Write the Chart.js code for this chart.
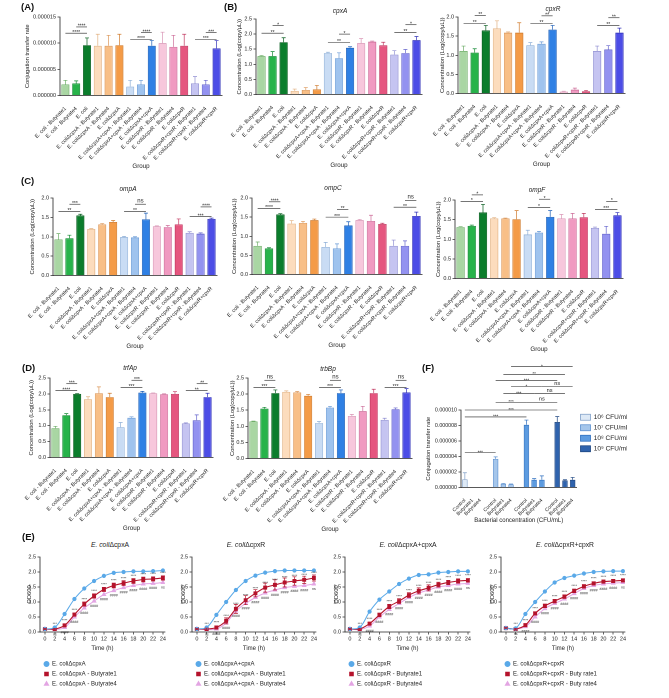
<!DOCTYPE html>
<html>
<head>
<meta charset="utf-8">
<script src="https://cdn.jsdelivr.net/npm/chart.js@4.4.1/dist/chart.umd.min.js"></script>
<style>
  html, body { margin: 0; padding: 0; background: #fff; }
  body { position: relative; width: 669px; height: 698px; overflow: hidden; font-family: "Liberation Sans", Arial, sans-serif; color: #222; }
  canvas { position: absolute; z-index: 1; }
  .tag { position: absolute; z-index: 2; font-weight: bold; font-size: 9.5px; color: #111; }
  .ttl { position: absolute; z-index: 2; font-size: 6.5px; font-style: italic; color: #222; transform: translate(-50%, -50%); white-space: nowrap; }
  .ettl { position: absolute; z-index: 2; font-size: 6.8px; color: #222; transform: translate(-50%, -50%); white-space: nowrap; }
</style>
</head>
<body>
<div class="tag" style="left:21px;top:1px">(A)</div>
<div class="tag" style="left:224px;top:1px">(B)</div>
<div class="tag" style="left:21px;top:175px">(C)</div>
<div class="tag" style="left:22px;top:362px">(D)</div>
<div class="tag" style="left:422px;top:362px">(F)</div>
<div class="tag" style="left:22px;top:531px">(E)</div>

<div class="ttl" style="left:340px;top:10px">cpxA</div>
<div class="ttl" style="left:553px;top:8px">cpxR</div>
<div class="ttl" style="left:128px;top:188px">ompA</div>
<div class="ttl" style="left:333px;top:187px">ompC</div>
<div class="ttl" style="left:537px;top:189px">ompF</div>
<div class="ttl" style="left:130px;top:367px">trfAp</div>
<div class="ttl" style="left:328px;top:368px">trbBp</div>

<div class="ettl" style="left:110px;top:544px"><i>E. coli</i>ΔcpxA</div>
<div class="ettl" style="left:246px;top:544px"><i>E. coli</i>ΔcpxR</div>
<div class="ettl" style="left:408px;top:544px"><i>E. coli</i>ΔcpxA+cpxA</div>
<div class="ettl" style="left:565px;top:544px"><i>E. coli</i>ΔcpxR+cpxR</div>

<script>
const INK = '#222';
Chart.defaults.font.family = '"Liberation Sans", Arial, sans-serif';
Chart.defaults.color = INK;

// ---------- data ----------
const groups = ['E. coli - Butyrate1', 'E. coli - Butyrate4', 'E. coli',
  'E. coliΔcpxA - Butyrate1', 'E. coliΔcpxA - Butyrate4', 'E. coliΔcpxA',
  'E. coliΔcpxA+cpxA - Butyrate1', 'E. coliΔcpxA+cpxA - Butyrate4', 'E. coliΔcpxA+cpxA',
  'E. coliΔcpxR - Butyrate1', 'E. coliΔcpxR - Butyrate4', 'E. coliΔcpxR',
  'E. coliΔcpxR+cpxR - Butyrate1', 'E. coliΔcpxR+cpxR - Butyrate4', 'E. coliΔcpxR+cpxR'];

const rateTicks = [0, 0.000005, 0.00001, 0.000015];
const conjRate = [2.1e-6, 2.3e-6, 9.6e-6, 9.5e-6, 9.5e-6, 9.6e-6, 1.7e-6, 2.1e-6, 9.5e-6, 10.0e-6, 9.3e-6, 9.5e-6, 2.3e-6, 2.1e-6, 9.0e-6];
const conjErr = [0.8e-6, 0.5e-6, 1.4e-6, 2.2e-6, 2.0e-6, 2.1e-6, 1.2e-6, 0.8e-6, 1.0e-6, 2.1e-6, 2.2e-6, 2.2e-6, 1.3e-6, 0.8e-6, 1.5e-6];
const conjSig = [[0, 2, 11.9e-6, '****'], [1, 2, 13.1e-6, '****'], [6, 8, 10.7e-6, '****'], [7, 8, 12.0e-6, '****'], [12, 14, 10.7e-6, '***'], [13, 14, 12.0e-6, '***']];

const ticks25 = [0, 0.5, 1, 1.5, 2, 2.5];
const ticks20 = [0, 0.5, 1, 1.5, 2];

const cpxA = [1.27, 1.27, 1.73, 0.12, 0.15, 0.17, 1.37, 1.2, 1.55, 1.7, 1.75, 1.63, 1.32, 1.37, 1.8];
const cpxAErr = [0.02, 0.15, 0.15, 0.06, 0.08, 0.13, 0.03, 0.18, 0.03, 0.15, 0.02, 0.1, 0.13, 0.12, 0.12];
const cpxASig = [[0, 2, 2.03, '**'], [1, 2, 2.28, '*'], [6, 8, 1.73, '**'], [7, 8, 2.0, '*'], [12, 14, 2.06, '**'], [13, 14, 2.31, '*']];

const cpxR = [1.11, 1.07, 1.65, 1.7, 1.59, 1.59, 1.26, 1.3, 1.67, 0.05, 0.1, 0.06, 1.11, 1.15, 1.59];
const cpxRErr = [0.13, 0.1, 0.13, 0.2, 0.02, 0.26, 0.07, 0.05, 0.11, 0.01, 0.04, 0.02, 0.13, 0.1, 0.12];
const cpxRSig = [[0, 2, 1.83, '**'], [1, 2, 2.04, '**'], [6, 8, 1.83, '**'], [7, 8, 2.03, '**'], [12, 14, 1.78, '**'], [13, 14, 1.98, '**']];

const ompA = [0.93, 0.96, 1.55, 1.2, 1.32, 1.38, 0.99, 0.98, 1.45, 1.27, 1.25, 1.32, 1.1, 1.08, 1.46];
const ompAErr = [0.15, 0.08, 0.03, 0.01, 0.02, 0.04, 0.02, 0.02, 0.16, 0.01, 0.04, 0.14, 0.03, 0.02, 0.02];
const ompASig = [[0, 2, 1.65, '**'], [1, 2, 1.84, '***'], [6, 8, 1.65, '**'], [7, 8, 1.84, 'ns'], [12, 14, 1.52, '***'], [13, 14, 1.77, '****']];

const ompC = [0.75, 0.68, 1.57, 1.33, 1.35, 1.42, 0.72, 0.68, 1.28, 1.42, 1.4, 1.32, 0.75, 0.75, 1.53];
const ompCErr = [0.1, 0.02, 0.02, 0.08, 0.04, 0.03, 0.12, 0.12, 0.1, 0.02, 0.15, 0.02, 0.15, 0.13, 0.1];
const ompCSig = [[0, 2, 1.73, '****'], [1, 2, 1.9, '****'], [6, 8, 1.5, '***'], [7, 8, 1.7, '**'], [12, 14, 1.76, '**'], [13, 14, 1.94, 'ns']];

const ompF = [1.31, 1.34, 1.68, 1.53, 1.53, 1.51, 1.12, 1.17, 1.57, 1.53, 1.53, 1.56, 1.29, 1.14, 1.61];
const ompFErr = [0.01, 0.02, 0.21, 0.02, 0.01, 0.22, 0.11, 0.03, 0.16, 0.1, 0.13, 0.1, 0.02, 0.19, 0.07];
const ompFSig = [[0, 2, 1.96, '*'], [1, 2, 2.13, '*'], [6, 8, 1.81, '*'], [7, 8, 2.02, '*'], [12, 14, 1.76, '***'], [13, 14, 1.96, '*']];

const trfAp = [0.92, 1.33, 2.0, 1.83, 2.02, 1.9, 0.95, 1.25, 2.04, 2.02, 1.99, 2.0, 1.07, 1.17, 1.9];
const trfApErr = [0.06, 0.05, 0.01, 0.08, 0.2, 0.12, 0.15, 0.03, 0.04, 0.01, 0.01, 0.07, 0.02, 0.17, 0.12];
const trfApSig = [[0, 2, 2.1, '****'], [1, 2, 2.32, '***'], [6, 8, 2.2, '***'], [7, 8, 2.43, '***'], [12, 14, 2.1, '**'], [13, 14, 2.32, '**']];

const trbBp = [1.15, 1.55, 2.03, 2.07, 2.05, 1.95, 1.1, 1.58, 2.03, 1.32, 1.47, 2.03, 1.2, 1.53, 2.05];
const trbBpErr = [0.01, 0.04, 0.1, 0.03, 0.03, 0.04, 0.05, 0.04, 0.1, 0.05, 0.15, 0.12, 0.05, 0.04, 0.12];
const trbBpSig = [[0, 2, 2.21, '***'], [1, 2, 2.43, 'ns'], [6, 8, 2.21, '***'], [7, 8, 2.43, 'ns'], [12, 14, 2.21, '***'], [13, 14, 2.43, 'ns']];

// panel F: bacterial concentration x treatment
const fLevels = ['10⁶ CFU/mL', '10⁷ CFU/mL', '10⁸ CFU/mL', '10⁹ CFU/mL'];
const fTreat = ['Control', 'Butyrate1', 'Butyrate4'];
const f6 = [1.05e-6, 0, 0], f6Err = [0.85e-6, 0, 0];
const f7 = [3.7e-6, 0.48e-6, 0.4e-6], f7Err = [0.25e-6, 0.06e-6, 0.05e-6];
const f8 = [8.1e-6, 1.0e-6, 1.0e-6], f8Err = [0.6e-6, 0.15e-6, 0.5e-6];
const f9 = [8.45e-6, 0.9e-6, 1.0e-6], f9Err = [0.7e-6, 0.1e-6, 0.3e-6];
const fTicks = [0, 0.000002, 0.000004, 0.000006, 0.000008, 0.00001];
// [from bar, to bar, height, label]; bars are numbered 0..14 with a gap after each level
const fSig = [[0, 4, 4.5e-6, '***'], [0, 8, 9.1e-6, '***'], [0, 12, 10.0e-6, '***'],
  [4, 8, 11.0e-6, '***'], [8, 12, 11.0e-6, 'ns'], [5, 9, 12.1e-6, '***'], [9, 13, 12.1e-6, 'ns'],
  [6, 10, 13.0e-6, '*'], [10, 14, 13.0e-6, 'ns'], [4, 12, 13.8e-6, '***'], [5, 13, 14.6e-6, '**'], [6, 14, 15.6e-6, '*']];

// panel E: growth curves
const times = [0, 2, 4, 6, 8, 10, 12, 14, 16, 18, 20, 22, 24];
const odTicks = [0, 0.5, 1, 1.5, 2, 2.5];
const e1Blue = [0.1, 0.15, 0.6, 1.1, 1.45, 1.7, 1.87, 1.97, 2.0, 2.02, 2.02, 2.03, 2.05];
const e1Red = [0.1, 0.1, 0.22, 0.58, 0.93, 1.2, 1.42, 1.55, 1.63, 1.7, 1.75, 1.77, 1.8];
const e1Pink = [0.1, 0.08, 0.15, 0.5, 0.8, 1.03, 1.25, 1.38, 1.48, 1.55, 1.6, 1.62, 1.65];
const e1RedErr = [0.02, 0.02, 0.04, 0.05, 0.07, 0.07, 0.07, 0.08, 0.08, 0.08, 0.08, 0.07, 0.07];
const e2Blue = [0.1, 0.15, 0.57, 1.0, 1.4, 1.7, 1.88, 1.98, 2.03, 2.05, 2.05, 2.05, 2.05];
const e2Red = [0.1, 0.1, 0.15, 0.37, 0.77, 1.06, 1.29, 1.48, 1.57, 1.65, 1.7, 1.74, 1.8];
const e2Pink = [0.1, 0.08, 0.1, 0.3, 0.7, 0.95, 1.15, 1.3, 1.4, 1.48, 1.52, 1.55, 1.6];
const e2RedErr = [0.02, 0.03, 0.05, 0.1, 0.15, 0.15, 0.12, 0.15, 0.17, 0.15, 0.14, 0.12, 0.1];
const e3Blue = [0.1, 0.15, 0.68, 1.08, 1.35, 1.6, 1.78, 1.9, 1.92, 1.98, 2.0, 2.02, 2.02];
const e3Red = [0.1, 0.1, 0.28, 0.57, 0.85, 1.03, 1.23, 1.37, 1.47, 1.58, 1.65, 1.7, 1.72];
const e3Pink = [0.1, 0.08, 0.2, 0.5, 0.75, 0.95, 1.15, 1.3, 1.4, 1.5, 1.55, 1.6, 1.62];
const e3RedErr = [0.02, 0.02, 0.04, 0.06, 0.07, 0.08, 0.08, 0.1, 0.1, 0.08, 0.07, 0.07, 0.06];
const e4Blue = [0.13, 0.12, 0.6, 1.0, 1.35, 1.65, 1.8, 1.88, 1.95, 2.0, 2.02, 2.03, 2.03];
const e4Red = [0.13, 0.1, 0.23, 0.62, 0.87, 1.03, 1.18, 1.37, 1.52, 1.62, 1.68, 1.7, 1.72];
const e4Pink = [0.13, 0.1, 0.18, 0.5, 0.78, 0.95, 1.1, 1.28, 1.45, 1.55, 1.6, 1.63, 1.65];
const e4RedErr = [0.02, 0.02, 0.04, 0.05, 0.06, 0.06, 0.06, 0.06, 0.06, 0.05, 0.05, 0.05, 0.05];
const eSigUp = ['', '***', '****', '****', '****', '****', '****', '****', '****', '****', '****', '****', '****'];
const eSigDown = ['', 'ns', '####', '####', '####', '####', '####', '####', '####', '####', '####', '####', 'ns'];
const e1Names = ['E. coliΔcpxA', 'E. coliΔcpxA - Butyrate1', 'E. coliΔcpxA - Butyrate4'];
const e2Names = ['E. coliΔcpxA+cpxA', 'E. coliΔcpxA+cpxA - Butyrate1', 'E. coliΔcpxA+cpxA - Butyrate4'];
const e3Names = ['E. coliΔcpxR', 'E. coliΔcpxR - Butyrate1', 'E. coliΔcpxR - Butyrate4'];
const e4Names = ['E. coliΔcpxR+cpxR', 'E. coliΔcpxR+cpxR - Buty rate1', 'E. coliΔcpxR+cpxR - Buty rate4'];

// ---------- colours ----------
const barFill = ['#a9d6a3', '#27b34a', '#0b7d2c', '#fcdcbd', '#f8bf87', '#f49b47',
  '#c9dcf4', '#9fc3ee', '#2f80e4', '#f7c7dc', '#f09ac1', '#e5567f', '#c5c4f1', '#9392f0', '#4c4de6'];
const barLine = ['#6fae69', '#168a35', '#055c1c', '#e2b283', '#dc985b', '#d07b2d',
  '#8fb0d8', '#6a9bd6', '#1d5fb8', '#d995b5', '#cd6e9a', '#c23a62', '#8f8ed2', '#6564cc', '#3233b8'];
const fFill = ['#dde9f6', '#a5c6eb', '#5c9be0', '#2f63ad'];
const fLine = ['#7f9fc7', '#5b8fcf', '#2f6fbf', '#1d4580'];
const eBlue = '#5aa9e8', eRed = '#b5132c', ePink = '#e3a5e3';

// ---------- helpers ----------
// create a canvas so that the chart area lands on rect (page pixels)
function makeChart(rect, guess, build) {
  let { x, y, w, h } = guess;
  let chart;
  for (let pass = 0; pass < 3; pass++) {
    const W = Math.round(w), H = Math.round(h);
    const cv = document.createElement('canvas');
    cv.width = W; cv.height = H;
    cv.style.left = x + 'px'; cv.style.top = y + 'px';
    cv.style.width = W + 'px'; cv.style.height = H + 'px';
    document.body.appendChild(cv);
    chart = new Chart(cv, build());
    const a = chart.chartArea;
    const dl = rect.l - (x + a.left), dt = rect.t - (y + a.top);
    const dr = rect.r - (x + a.right), db = rect.b - (y + a.bottom);
    if (Math.max(Math.abs(dl), Math.abs(dt), Math.abs(dr), Math.abs(db)) < 0.6 || pass === 2) break;
    chart.destroy(); cv.remove();
    x += dl; y += dt; w = W + dr - dl; h = H + db - dt;
  }
  return chart;
}

const errorBars = {
  id: 'errorBars',
  afterDatasetsDraw(chart) {
    const { ctx } = chart, ys = chart.scales.y;
    chart.data.datasets.forEach((ds, di) => {
      if (!ds.errors) return;
      const meta = chart.getDatasetMeta(di);
      meta.data.forEach((el, i) => {
        const v = chart.config.type === 'line' ? ds.data[i].y : ds.data[i];
        const e = ds.errors[i];
        if (v == null || !e) return;
        const c = Array.isArray(ds.borderColor) ? ds.borderColor[i] : ds.borderColor;
        const top = ys.getPixelForValue(v + e);
        const bot = chart.config.type === 'line' ? ys.getPixelForValue(v - e) : el.y;
        ctx.save();
        ctx.strokeStyle = c; ctx.lineWidth = 0.7;
        ctx.beginPath();
        ctx.moveTo(el.x, bot); ctx.lineTo(el.x, top);
        ctx.moveTo(el.x - 2, top); ctx.lineTo(el.x + 2, top);
        if (chart.config.type === 'line') { ctx.moveTo(el.x - 2, bot); ctx.lineTo(el.x + 2, bot); }
        ctx.stroke();
        ctx.restore();
      });
    });
  }
};

function brackets(items, size) {
  return {
    id: 'brackets',
    afterDatasetsDraw(chart) {
      const { ctx } = chart, xs = chart.scales.x, ys = chart.scales.y;
      ctx.save();
      ctx.strokeStyle = INK; ctx.fillStyle = INK; ctx.lineWidth = 0.6;
      ctx.textAlign = 'center'; ctx.textBaseline = 'bottom';
      items.forEach(([a, b, v, txt]) => {
        const x1 = xs.getPixelForValue(a), x2 = xs.getPixelForValue(b), yy = ys.getPixelForValue(v);
        ctx.beginPath(); ctx.moveTo(x1, yy); ctx.lineTo(x2, yy); ctx.stroke();
        const ns = txt === 'ns';
        ctx.font = (ns ? size + 1 : size) + 'px "Liberation Sans", Arial, sans-serif';
        ctx.fillText(txt, (x1 + x2) / 2, yy + (ns ? -0.3 : 1.8));
      });
      ctx.restore();
    }
  };
}

function yAxis(yw, tickVals, digits, title, tickSize) {
  return {
    min: tickVals[0], max: tickVals[tickVals.length - 1], bounds: 'data',
    afterBuildTicks: s => { s.ticks = tickVals.map(v => ({ value: v })); },
    ticks: { callback: v => v.toFixed(digits), font: { size: tickSize || 5.5 }, padding: 1.5, color: INK },
    grid: { drawOnChartArea: false, tickLength: 2.5, color: INK, lineWidth: 0.7 },
    border: { color: INK, width: 0.8 },
    title: { display: true, text: title, font: { size: 5.8 }, padding: 0, color: INK },
    afterFit: s => { s.width = yw; s.paddingTop = 0; s.paddingBottom = 0; }
  };
}

function barPanel(rect, yw, values, errors, tickVals, digits, yTitle, sig) {
  const padTop = 14, padLeft = 34, padRight = 3, xh = 74.5;
  return makeChart(rect, {
    x: rect.l - yw - padLeft, y: rect.t - padTop,
    w: rect.r - rect.l + yw + padLeft + padRight, h: rect.b - rect.t + padTop + xh
  }, () => ({
    type: 'bar',
    data: {
      labels: groups,
      datasets: [{ data: values, errors, backgroundColor: barFill, borderColor: barLine,
        borderWidth: 0.8, barPercentage: 0.74, categoryPercentage: 1 }]
    },
    options: {
      responsive: false, animation: false, devicePixelRatio: 2,
      layout: { padding: { top: padTop, left: padLeft, right: padRight, bottom: 0 } },
      plugins: { legend: { display: false }, tooltip: { enabled: false } },
      scales: {
        x: {
          grid: { display: false }, border: { color: INK, width: 0.8 },
          ticks: { autoSkip: false, minRotation: 45, maxRotation: 45, padding: 2, font: { size: 5.3 }, color: INK },
          title: { display: true, text: 'Group', font: { size: 6.2 }, padding: 0, color: INK },
          afterFit: s => { s.height = xh; s.paddingLeft = 0; s.paddingRight = 0; }
        },
        y: yAxis(yw, tickVals, digits, yTitle)
      }
    },
    plugins: [errorBars, brackets(sig, 5)]
  }));
}

const conc = 'Concentration (Log(copy/μL))';
barPanel({ l: 60, t: 17, r: 222, b: 95 }, 36, conjRate, conjErr, rateTicks, 6, 'Conjugation transfer rate', conjSig);
barPanel({ l: 256, t: 19, r: 422, b: 94 }, 20, cpxA, cpxAErr, ticks25, 1, conc, cpxASig);
barPanel({ l: 458, t: 17, r: 625, b: 93 }, 19, cpxR, cpxRErr, ticks20, 1, conc, cpxRSig);
barPanel({ l: 53, t: 198, r: 217, b: 275 }, 24, ompA, ompAErr, ticks20, 1, conc, ompASig);
barPanel({ l: 252, t: 198, r: 422, b: 274 }, 21, ompC, ompCErr, ticks20, 1, conc, ompCSig);
barPanel({ l: 455, t: 200, r: 623, b: 278 }, 20, ompF, ompFErr, ticks20, 1, conc, ompFSig);
barPanel({ l: 50, t: 378, r: 213, b: 457 }, 22, trfAp, trfApErr, ticks25, 1, conc, trfApSig);
barPanel({ l: 248, t: 378, r: 412, b: 458 }, 19, trbBp, trbBpErr, ticks25, 1, conc, trbBpSig);

// ---------- panel F ----------
(function () {
  const rect = { l: 461, t: 410, r: 576, b: 487 }, yw = 36, padTop = 52, xh = 36.5;
  const levels = [[f6, f6Err], [f7, f7Err], [f8, f8Err], [f9, f9Err]];
  const labels = [];
  for (let g = 0; g < 4; g++) {
    fTreat.forEach(t => labels.push(t));
    if (g < 3) labels.push('');
  }
  makeChart(rect, { x: rect.l - yw, y: rect.t - padTop, w: rect.r - rect.l + yw + 60, h: rect.b - rect.t + padTop + xh }, () => ({
    type: 'bar',
    data: {
      labels,
      datasets: levels.map(([vals, errs], g) => {
        const data = labels.map(() => null), errors = labels.map(() => null);
        vals.forEach((v, i) => { data[g * 4 + i] = v; errors[g * 4 + i] = errs[i]; });
        return { label: fLevels[g], data, errors, grouped: false, backgroundColor: fFill[g], borderColor: fLine[g],
          borderWidth: 0.8, barPercentage: 0.7, categoryPercentage: 1 };
      })
    },
    options: {
      responsive: false, animation: false, devicePixelRatio: 2,
      layout: { padding: { top: padTop, left: 0, right: 0, bottom: 0 } },
      plugins: {
        tooltip: { enabled: false },
        legend: { position: 'right', align: 'start', fullSize: false,
          labels: { boxWidth: 10, boxHeight: 6, padding: 4, font: { size: 6.5 }, color: INK } }
      },
      scales: {
        x: {
          grid: { display: false }, border: { color: INK, width: 0.8 },
          ticks: { autoSkip: false, minRotation: 45, maxRotation: 45, padding: 2, font: { size: 5 }, color: INK },
          title: { display: true, text: 'Bacterial concentration (CFU/mL)', font: { size: 6 }, padding: 0, color: INK },
          afterFit: s => { s.height = xh; s.paddingLeft = 0; s.paddingRight = 0; }
        },
        y: yAxis(yw, fTicks, 6, 'Conjugation transfer rate', 5.3)
      }
    },
    plugins: [errorBars, brackets(fSig, 4.6)]
  }));
})();

// ---------- panel E ----------
function sigText(up, down) {
  return {
    id: 'sigText',
    afterDatasetsDraw(chart) {
      const { ctx } = chart;
      const red = chart.getDatasetMeta(1).data, pink = chart.getDatasetMeta(2).data;
      ctx.save();
      ctx.fillStyle = '#333'; ctx.textAlign = 'center';
      ctx.font = '3.6px "Liberation Sans", Arial, sans-serif';
      red.forEach((p, i) => { if (up[i]) { ctx.textBaseline = 'bottom'; ctx.fillText(up[i], p.x, p.y - 3); } });
      pink.forEach((p, i) => { if (down[i]) { ctx.textBaseline = 'top'; ctx.fillText(down[i], p.x, p.y + 3); } });
      ctx.restore();
    }
  };
}

function growthPanel(rect, yw, names, blue, red, pink, redErr) {
  const padTop = 6, padRight = 4, xh = 25;
  const pts = arr => times.map((t, i) => ({ x: t, y: arr[i] }));
  return makeChart(rect, { x: rect.l - yw, y: rect.t - padTop, w: rect.r - rect.l + yw + padRight, h: 698 - rect.t + padTop }, () => ({
    type: 'line',
    data: {
      datasets: [
        { label: names[0], data: pts(blue), borderColor: eBlue, backgroundColor: eBlue, pointStyle: 'circle',
          pointRadius: 1.6, borderWidth: 1, tension: 0.35 },
        { label: names[1], data: pts(red), errors: redErr, borderColor: eRed, backgroundColor: eRed, pointStyle: 'rect',
          pointRadius: 2, borderWidth: 1.1, tension: 0.35 },
        { label: names[2], data: pts(pink), borderColor: ePink, backgroundColor: ePink, pointStyle: 'triangle',
          pointRadius: 2, borderWidth: 1, tension: 0.35 }
      ]
    },
    options: {
      responsive: false, animation: false, devicePixelRatio: 2,
      layout: { padding: { top: padTop, left: 0, right: padRight, bottom: 0 } },
      plugins: {
        tooltip: { enabled: false },
        legend: { position: 'bottom', align: 'start', fullSize: false,
          labels: { usePointStyle: true, boxWidth: 5, boxHeight: 3.5, padding: 4, font: { size: 6 }, color: INK } }
      },
      scales: {
        x: {
          type: 'linear', min: -1, max: 24.4, bounds: 'data',
          afterBuildTicks: s => { s.ticks = times.map(v => ({ value: v })); },
          grid: { drawOnChartArea: false, tickLength: 2.5, color: INK, lineWidth: 0.7 },
          border: { color: INK, width: 0.8 },
          ticks: { font: { size: 5.5 }, padding: 1, color: INK, maxRotation: 0 },
          title: { display: true, text: 'Time (h)', font: { size: 6 }, padding: { top: 0, bottom: 5 }, color: INK },
          afterFit: s => { s.height = xh; s.paddingLeft = 0; s.paddingRight = 0; }
        },
        y: yAxis(yw, odTicks, 1, 'OD600')
      }
    },
    plugins: [errorBars, sigText(eSigUp, eSigDown)]
  }));
}

growthPanel({ l: 40, t: 557, r: 165, b: 632 }, 14, e1Names, e1Blue, e1Red, e1Pink, e1RedErr);
growthPanel({ l: 192, t: 557, r: 316, b: 632 }, 12, e2Names, e2Blue, e2Red, e2Pink, e2RedErr);
growthPanel({ l: 345, t: 557, r: 470, b: 632 }, 12, e3Names, e3Blue, e3Red, e3Pink, e3RedErr);
growthPanel({ l: 501, t: 557, r: 625, b: 632 }, 12, e4Names, e4Blue, e4Red, e4Pink, e4RedErr);
</script>
</body>
</html>
